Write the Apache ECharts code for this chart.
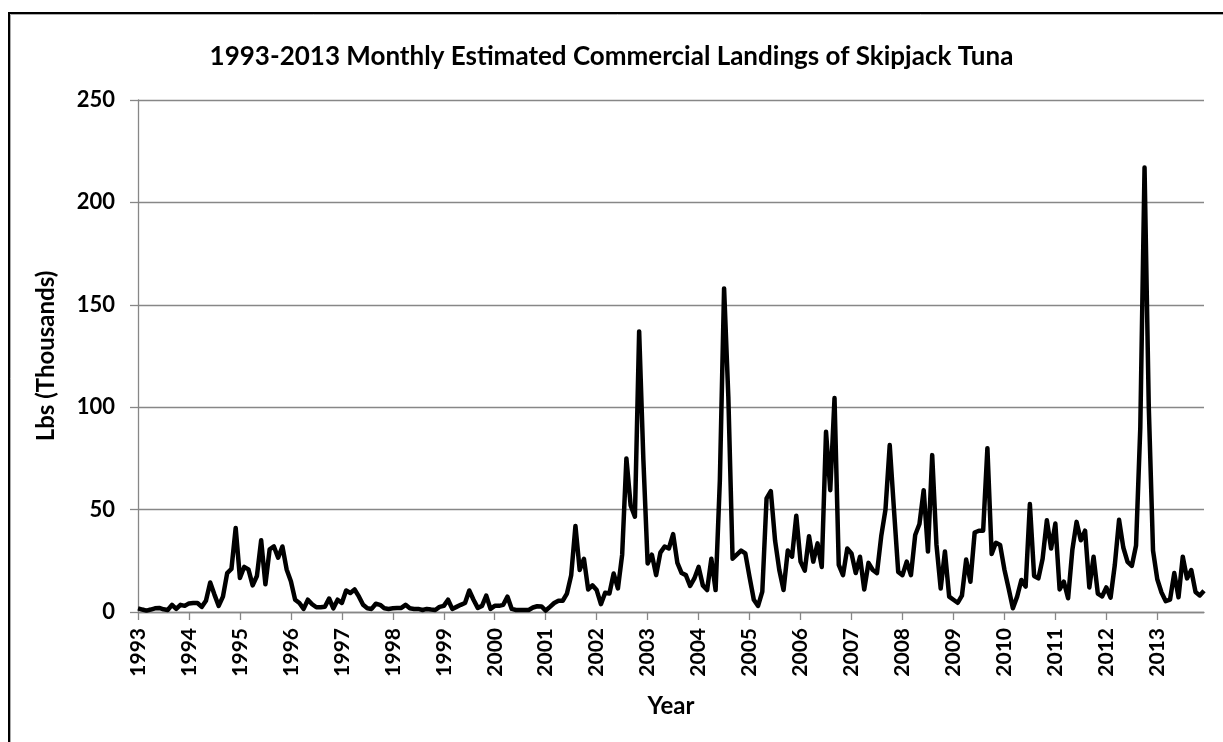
<!DOCTYPE html>
<html>
<head>
<meta charset="utf-8">
<script src="https://cdn.jsdelivr.net/npm/echarts@6/dist/echarts.min.js"></script>
<style>
html,body{margin:0;padding:0;background:#fff;}
#chart{width:1223px;height:742px;}
</style>
</head>
<body>
<div id="chart"></div>
<script>
const titleText = "1993-2013 Monthly Estimated Commercial Landings of Skipjack Tuna";
const yAxisName = "Lbs (Thousands)";
const xAxisName = "Year";
const years = ["1993","1994","1995","1996","1997","1998","1999","2000","2001","2002","2003","2004","2005","2006","2007","2008","2009","2010","2011","2012","2013"];

const v1993 = [1.8, 1.2, 0.7, 1.2, 1.8, 2, 1.3, 1, 3.5, 1.5, 3.5, 3];
const v1994 = [4.2, 4.4, 4.4, 2.5, 5.5, 14.4, 8.5, 3, 7.5, 19, 21, 41];
const v1995 = [16.6, 22, 20.8, 13, 17.6, 35, 13.5, 30.6, 32, 26.5, 32, 20.8];
const v1996 = [15, 6, 4.4, 1.5, 6, 3.8, 2.3, 2.3, 2.6, 6.6, 1.8, 6];
const v1997 = [4.4, 10.5, 9.3, 11, 7.6, 3.5, 1.8, 1.5, 4, 3.5, 1.8, 1.5];
const v1998 = [1.8, 2, 2, 3.5, 1.8, 1.5, 1.5, 1, 1.5, 1.2, 1, 2.5];
const v1999 = [3, 6, 1.5, 2.5, 3.5, 4.4, 10.5, 6, 2, 3, 8, 1.5];
const v2000 = [3, 3, 3.5, 7.5, 1.5, 1, 1, 1, 1, 2.2, 2.8, 2.7];
const v2001 = [0.7, 2.5, 4.4, 5.5, 5.5, 9, 18, 42, 20.5, 26, 11, 13];
const v2002 = [10.7, 3.8, 9.4, 9, 18.8, 11.5, 28, 75, 52, 46.5, 137, 74];
const v2003 = [23.7, 28, 18, 29, 32, 31, 38, 24, 19, 18, 12.7, 16.4];
const v2004 = [22, 13, 10.7, 26, 10.7, 64, 158, 105, 26, 28, 30, 28.6];
const v2005 = [17, 6, 3, 10, 55.5, 59, 35, 20.5, 10.7, 30, 27, 47];
const v2006 = [24.6, 20.2, 37, 24.6, 33.5, 22, 88, 59.5, 104.5, 23, 18, 31];
const v2007 = [28.6, 19, 27, 11, 24, 20.5, 19, 37, 50, 81.5, 50, 19.6];
const v2008 = [18, 24.6, 18, 37.6, 43, 59.5, 29.5, 76.6, 33, 11.5, 29.5, 7.5];
const v2009 = [6, 4.5, 8, 25.6, 14.8, 38.8, 39.7, 39.7, 80, 28.3, 33.8, 32.7];
const v2010 = [20.8, 11.5, 1.8, 7.5, 15.6, 12.4, 52.7, 17.6, 16.4, 26, 44.8, 31];
const v2011 = [43.2, 11, 14.8, 6.7, 30.3, 44, 35, 39.7, 12, 27, 9, 7.6];
const v2012 = [12, 7, 23, 45, 31.5, 24.5, 22.5, 32.5, 90, 217, 100, 30];
const v2013 = [16, 9.5, 5.3, 6, 19, 7.2, 27, 16.4, 20.5, 9.8, 8.1, 10.4];

const yearValues = [v1993,v1994,v1995,v1996,v1997,v1998,v1999,v2000,v2001,v2002,v2003,v2004,v2005,v2006,v2007,v2008,v2009,v2010,v2011,v2012,v2013];

const categories = [];
const values = [];
years.forEach((y, yi) => {
  yearValues[yi].forEach((v, m) => {
    categories.push(y + "-" + String(m + 1).padStart(2, "0"));
    values.push(v);
  });
});

const FONT = "Lato";
const GRAY = "#878787";

const chart = echarts.init(document.getElementById("chart"), null, {renderer: "canvas"});
chart.setOption({
  animation: false,
  backgroundColor: "#fff",
  title: {
    text: titleText,
    left: "center",
    top: 37,
    textStyle: {fontFamily: FONT, fontWeight: "bold", fontSize: 26, color: "#000", lineHeight: 30}
  },
  graphic: [
    {type: "rect", shape: {x: 9, y: 13, width: 1400, height: 900}, style: {fill: "none", stroke: "#000", lineWidth: 2}, z: 100},
    {type: "rect", shape: {x: 10.5, y: 14.5, width: 1400, height: 900}, style: {fill: "none", stroke: "#aaa", lineWidth: 1}, z: 100}
  ],
  grid: {left: 138, top: 100, right: 19, bottom: 130, containLabel: false},
  xAxis: {
    type: "category",
    data: categories,
    boundaryGap: false,
    name: xAxisName,
    nameLocation: "middle",
    nameGap: 82,
    nameTextStyle: {fontFamily: FONT, fontWeight: "bold", fontSize: 24, color: "#000"},
    axisLine: {show: true, lineStyle: {color: GRAY, width: 1.3}},
    axisTick: {show: true, interval: 11, length: 8, lineStyle: {color: GRAY, width: 1.3}},
    axisLabel: {
      interval: 11,
      rotate: 90,
      margin: 16,
      fontFamily: FONT, fontWeight: "bold", fontSize: 21, color: "#000",
      formatter: (v) => v.slice(0, 4)
    },
    splitLine: {show: false}
  },
  yAxis: {
    type: "value",
    min: 0, max: 250, interval: 50,
    name: yAxisName,
    nameLocation: "middle",
    nameRotate: 90,
    nameGap: 80,
    nameTextStyle: {fontFamily: FONT, fontWeight: "bold", fontSize: 24, color: "#000"},
    axisLine: {show: true, lineStyle: {color: GRAY, width: 1.3}},
    axisTick: {show: true, length: 8, lineStyle: {color: GRAY, width: 1.3}},
    axisLabel: {margin: 23, fontFamily: FONT, fontWeight: "bold", fontSize: 22, color: "#000"},
    splitLine: {show: true, lineStyle: {color: GRAY, width: 1.3}}
  },
  series: [{
    type: "line",
    data: values,
    showSymbol: false,
    symbol: "none",
    lineStyle: {color: "#000", width: 4.5, join: "round"},
    z: 5
  }]
});
</script>
</body>
</html>
